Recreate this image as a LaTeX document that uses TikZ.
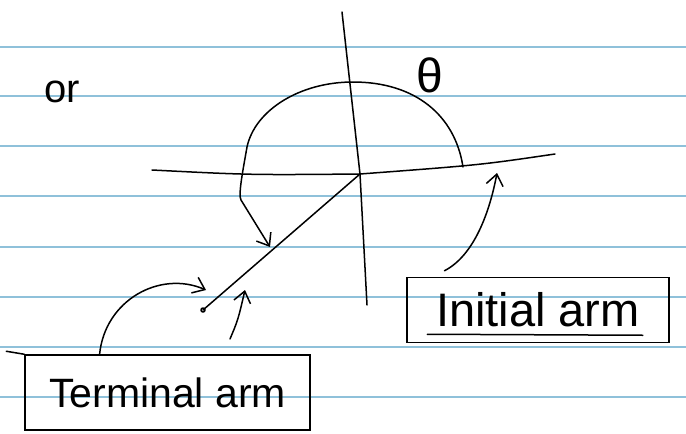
\documentclass[tikz,border=0pt]{standalone}
\usepackage{fontspec}
\setmainfont{Liberation Sans}
\usetikzlibrary{arrows.meta,calc}
\definecolor{ruleblue}{RGB}{143,193,218}
\begin{document}
\begin{tikzpicture}[x=1pt,y=-1pt,
  ink/.style={line width=1.5pt, line cap=round, line join=round},
  arr/.style={ink, -{Straight Barb[length=11pt,width=17pt,line width=1.5pt]}},
  labelbox/.style={draw, line width=1.5pt, inner sep=0pt},
  rulel/.style={line width=1.8pt, draw=ruleblue}]
\useasboundingbox (0,0) rectangle (686,434);
\fill[white] (0,0) rectangle (686,434);
\foreach \y in {47,96,146,196,247,297,347,397} \draw[rulel] (0,\y) -- (686,\y);

% axes
\coordinate (O) at (360,174);
\coordinate (xl) at (152,170);
\coordinate (xr) at (555,154);
\coordinate (yt) at (342,12);
\coordinate (yb) at (367,305);
\draw[ink] (xl) .. controls (250,175) .. (O) .. controls (480,165) .. (xr);
\draw[ink] (yt) -- (O) -- (yb);

% terminal arm
\coordinate (T) at (203,310);
\draw[ink] (O) -- (T);
\draw[ink] (T) circle (2);

% angle arc
\coordinate (A0) at (463,167);
\coordinate (A1) at (270,247);
\draw[arr] (A0) .. controls (455,115) and (415,82) .. (353,82)
  .. controls (300,82) and (255,110) .. (247,147)
  .. controls (243,170) and (238,195) .. (241,200) -- (A1);

% labels
\node[font=\fontsize{48}{50}\selectfont] (theta) at (430,75) {θ};
\node[font=\fontsize{40}{44}\selectfont] (or) at (62,92) {or};

\node[labelbox, minimum width=262pt, minimum height=65pt, font=\fontsize{47}{50}\selectfont] (ibox) at (538,310) {Initial arm};
\node[labelbox, minimum width=285pt, minimum height=75pt, font=\fontsize{41}{44}\selectfont] (tbox) at (167.5,392.5) {Terminal arm};
\draw[ink] (tbox.north west) -- ++(-18,-3);
\draw[ink] ($(ibox.south west)+(21,-9)$) -- ($(ibox.south east)+(-27,-8)$);

% connectors
\coordinate (tT) at (206,290);
\draw[arr] ($(tbox.north west)!0.263!(tbox.north east)$) .. controls (105,300) and (160,270) .. (tT);
\coordinate (b1) at (230,339);
\coordinate (b2) at (245,290);
\draw[arr] (b1) .. controls (238,320) .. (b2);
\coordinate (iT) at (497,173);
\draw[arr] ($(ibox.north west)!0.145!(ibox.north east)+(0,-6)$) .. controls (475,255) and (490,210) .. (iT);
\end{tikzpicture}
\end{document}
